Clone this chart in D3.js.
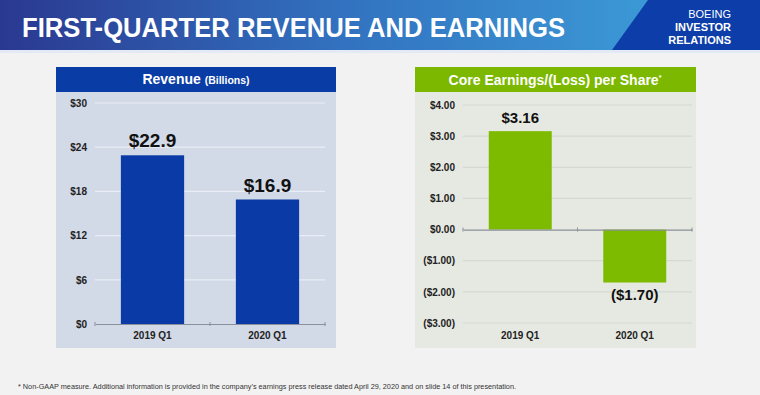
<!DOCTYPE html>
<html>
<head>
<meta charset="utf-8">
<script src="https://cdn.jsdelivr.net/npm/d3@7"></script>
<style>
  body { margin: 0; background: #f2f2f2; }
  svg { display: block; font-family: "Liberation Sans", Arial, sans-serif; }
</style>
</head>
<body>
<svg id="chart" width="760" height="395"></svg>
<script>
// DATA
const categories = ['2019 Q1', '2020 Q1'];
const revenue = [22.9, 16.9];
const revenueTicks = [0, 6, 12, 18, 24, 30];
const eps = [3.16, -1.70];
const epsTicks = [-3, -2, -1, 0, 1, 2, 3, 4];

const svg = d3.select('#chart');
const defs = svg.append('defs');

// HEADER
const grad = defs.append('linearGradient').attr('id', 'hdr').attr('x1', 0).attr('x2', 1);
grad.append('stop').attr('offset', 0).attr('stop-color', '#2a3890');
grad.append('stop').attr('offset', 0.45).attr('stop-color', '#3272c0');
grad.append('stop').attr('offset', 1).attr('stop-color', '#3fa6dd');

svg.append('rect').attr('width', 760).attr('height', 50).attr('fill', 'url(#hdr)');
svg.append('polygon').attr('points', '648,0 760,0 760,50 612,50').attr('fill', '#0c3da8');
svg.append('rect').attr('y', 50).attr('width', 760).attr('height', 3).attr('fill', '#e3eaf6');

svg.append('text')
  .attr('x', 22).attr('y', 37)
  .attr('fill', '#fff').attr('font-size', 27).attr('font-weight', 'bold')
  .attr('textLength', 543).attr('lengthAdjust', 'spacingAndGlyphs')
  .text('FIRST-QUARTER REVENUE AND EARNINGS');

const brand = [['BOEING', 'normal', 18], ['INVESTOR', 'bold', 31], ['RELATIONS', 'bold', 44]];
svg.selectAll('.brand').data(brand).enter().append('text')
  .attr('class', 'brand')
  .attr('x', 731).attr('y', d => d[2])
  .attr('text-anchor', 'end').attr('fill', '#fff')
  .attr('font-size', 11).attr('font-weight', d => d[1])
  .text(d => d[0]);

// PANEL helper
function panel(opt) {
  const g = svg.append('g');
  g.append('rect').attr('x', opt.x0).attr('y', 92).attr('width', opt.x1 - opt.x0).attr('height', 256).attr('fill', opt.bg);
  g.append('rect').attr('x', opt.x0).attr('y', 67).attr('width', opt.x1 - opt.x0).attr('height', 25).attr('fill', opt.head);

  const x = d3.scaleBand().domain(categories).range([opt.px0, opt.px1]).paddingInner(0.45).paddingOuter(0.225);
  const y = d3.scaleLinear().domain(opt.domain).range(opt.yr);

  // grid
  g.append('g').selectAll('line').data(opt.ticks.filter(t => t !== 0)).enter().append('line')
    .attr('x1', opt.px0).attr('x2', opt.px1)
    .attr('y1', d => y(d)).attr('y2', d => y(d))
    .attr('stroke', opt.grid).attr('stroke-width', 1.2);

  // y axis labels
  const yAxis = g.append('g')
    .attr('transform', `translate(${opt.px0 - 8},0)`)
    .call(d3.axisLeft(y).tickValues(opt.ticks).tickFormat(opt.fmt).tickSize(0).tickPadding(0));
  yAxis.select('.domain').remove();
  yAxis.selectAll('text').attr('font-size', 10).attr('font-weight', 'bold').attr('fill', '#222')
    .attr('font-family', '"Liberation Sans", Arial, sans-serif');

  // bars
  g.append('g').selectAll('rect').data(opt.values).enter().append('rect')
    .attr('x', (d, i) => x(categories[i]))
    .attr('width', x.bandwidth())
    .attr('y', d => y(Math.max(0, d)))
    .attr('height', d => Math.abs(y(d) - y(0)))
    .attr('fill', opt.bar);

  // zero axis
  const xAxis = g.append('g')
    .attr('transform', `translate(0,${y(0)})`)
    .call(d3.axisBottom(x).tickSize(0).tickFormat(''));
  xAxis.select('.domain').attr('stroke', '#8a8f99').attr('stroke-width', 1.2);
  g.append('g').selectAll('line').data([opt.px0, (opt.px0 + opt.px1) / 2, opt.px1]).enter().append('line')
    .attr('x1', d => d).attr('x2', d => d)
    .attr('y1', y(0) - 2).attr('y2', y(0) + 2)
    .attr('stroke', '#8a8f99');

  // category labels
  g.append('g').selectAll('text').data(categories).enter().append('text')
    .attr('x', d => x(d) + x.bandwidth() / 2)
    .attr('y', 339)
    .attr('text-anchor', 'middle')
    .attr('font-size', 10).attr('font-weight', 'bold').attr('fill', '#222')
    .text(d => d);

  // value labels
  g.append('g').selectAll('text').data(opt.values).enter().append('text')
    .attr('x', (d, i) => x(categories[i]) + x.bandwidth() / 2)
    .attr('y', d => d >= 0 ? y(d) - 8 : y(d) + 17)
    .attr('text-anchor', 'middle')
    .attr('font-size', opt.labelSize).attr('font-weight', 'bold').attr('fill', '#111')
    .text(opt.labelFmt);
  return g;
}

// REVENUE
const rev = panel({
  x0: 56, x1: 336, px0: 95, px1: 325,
  bg: '#d2d9e7', head: '#0a3ca6', grid: '#e9edf5', bar: '#0a3aa5',
  domain: [0, 30], yr: [324, 103], ticks: revenueTicks,
  fmt: d => '$' + d, values: revenue, labelSize: 19,
  labelFmt: d => '$' + d.toFixed(1)
});
const revTitle = rev.append('text').attr('x', 196).attr('y', 84).attr('text-anchor', 'middle')
  .attr('fill', '#fff').attr('font-weight', 'bold');
revTitle.append('tspan').attr('font-size', 14).text('Revenue ');
revTitle.append('tspan').attr('font-size', 10.5).text('(Billions)');

// EARNINGS
const epsFmt = d => d < 0 ? '($' + Math.abs(d).toFixed(2) + ')' : '$' + d.toFixed(2);
const earn = panel({
  x0: 415, x1: 696, px0: 463, px1: 692,
  bg: '#e6e9e1', head: '#7cb800', grid: '#d6d9d2', bar: '#7dbb00',
  domain: [-3, 4], yr: [323, 105], ticks: epsTicks,
  fmt: epsFmt, values: eps, labelSize: 15,
  labelFmt: epsFmt
});
const earnTitle = earn.append('text').attr('x', 555).attr('y', 85).attr('text-anchor', 'middle')
  .attr('fill', '#fff').attr('font-weight', 'bold').attr('font-size', 14);
earnTitle.append('tspan').text('Core Earnings/(Loss) per Share');
earnTitle.append('tspan').attr('font-size', 7).attr('dy', -5).text('*');

// FOOTNOTE
svg.append('text')
  .attr('x', 18).attr('y', 389)
  .attr('font-size', 7).attr('fill', '#333')
  .attr('textLength', 498).attr('lengthAdjust', 'spacingAndGlyphs')
  .text('* Non-GAAP measure. Additional information is provided in the company\u2019s earnings press release dated April 29, 2020 and on slide 14 of this presentation.');
</script>
</body>
</html>
